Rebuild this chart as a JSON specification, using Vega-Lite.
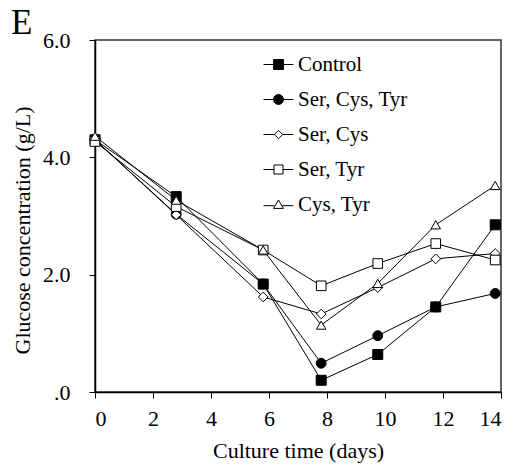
{
  "$schema": "https://vega.github.io/schema/vega-lite/v6.json",
  "width": 406,
  "height": 352,
  "autosize": "none",
  "padding": {"left": 95, "top": 40, "right": 12, "bottom": 74},
  "background": "white",
  "title": {
    "text": "E",
    "anchor": "start",
    "frame": "group",
    "orient": "top",
    "baseline": "alphabetic",
    "dx": -84,
    "dy": 40,
    "offset": 0,
    "font": "serif",
    "fontSize": 35,
    "fontWeight": "normal",
    "color": "black"
  },
  "config": {
    "font": "serif",
    "view": {"stroke": "#333333", "strokeWidth": 1.5},
    "axis": {
      "grid": false,
      "domainColor": "black",
      "domainWidth": 1.5,
      "tickColor": "black",
      "tickWidth": 1,
      "labelFont": "serif",
      "labelFontSize": 22,
      "labelFontWeight": "normal",
      "labelColor": "black",
      "titleFont": "serif",
      "titleFontSize": 22,
      "titleFontWeight": "normal",
      "titleColor": "black"
    }
  },
  "data": {
    "values": [
      {"series": "Control", "day": 0, "glucose": 4.30},
      {"series": "Control", "day": 2.8, "glucose": 3.33},
      {"series": "Control", "day": 5.8, "glucose": 1.84},
      {"series": "Control", "day": 7.8, "glucose": 0.20},
      {"series": "Control", "day": 9.75, "glucose": 0.64},
      {"series": "Control", "day": 11.75, "glucose": 1.45},
      {"series": "Control", "day": 13.8, "glucose": 2.85},
      {"series": "Ser, Cys, Tyr", "day": 0, "glucose": 4.30},
      {"series": "Ser, Cys, Tyr", "day": 2.8, "glucose": 3.03},
      {"series": "Ser, Cys, Tyr", "day": 5.8, "glucose": 1.84},
      {"series": "Ser, Cys, Tyr", "day": 7.8, "glucose": 0.49},
      {"series": "Ser, Cys, Tyr", "day": 9.75, "glucose": 0.96},
      {"series": "Ser, Cys, Tyr", "day": 11.75, "glucose": 1.45},
      {"series": "Ser, Cys, Tyr", "day": 13.8, "glucose": 1.68},
      {"series": "Ser, Cys", "day": 0, "glucose": 4.30},
      {"series": "Ser, Cys", "day": 2.8, "glucose": 3.02},
      {"series": "Ser, Cys", "day": 5.8, "glucose": 1.62},
      {"series": "Ser, Cys", "day": 7.8, "glucose": 1.33},
      {"series": "Ser, Cys", "day": 9.75, "glucose": 1.78},
      {"series": "Ser, Cys", "day": 11.75, "glucose": 2.27},
      {"series": "Ser, Cys", "day": 13.8, "glucose": 2.36},
      {"series": "Ser, Tyr", "day": 0, "glucose": 4.27},
      {"series": "Ser, Tyr", "day": 2.8, "glucose": 3.16},
      {"series": "Ser, Tyr", "day": 5.8, "glucose": 2.42},
      {"series": "Ser, Tyr", "day": 7.8, "glucose": 1.81},
      {"series": "Ser, Tyr", "day": 9.75, "glucose": 2.19},
      {"series": "Ser, Tyr", "day": 11.75, "glucose": 2.53},
      {"series": "Ser, Tyr", "day": 13.8, "glucose": 2.25},
      {"series": "Cys, Tyr", "day": 0, "glucose": 4.36},
      {"series": "Cys, Tyr", "day": 2.8, "glucose": 3.27},
      {"series": "Cys, Tyr", "day": 5.8, "glucose": 2.42},
      {"series": "Cys, Tyr", "day": 7.8, "glucose": 1.14},
      {"series": "Cys, Tyr", "day": 9.75, "glucose": 1.85},
      {"series": "Cys, Tyr", "day": 11.75, "glucose": 2.85},
      {"series": "Cys, Tyr", "day": 13.8, "glucose": 3.52}
    ]
  },
  "encoding": {
    "x": {
      "field": "day",
      "type": "quantitative",
      "scale": {"domain": [0, 14], "nice": false, "zero": false},
      "axis": {
        "title": "Culture time (days)",
        "values": [0, 2, 4, 6, 8, 10, 12, 14],
        "format": "d",
        "tickSize": 6,
        "labelPadding": 10,
        "titleBaseline": "alphabetic",
        "titleY": 65,
        "encode": {"ticks": {"update": {"y2": {"value": -6}}}}
      }
    },
    "y": {
      "field": "glucose",
      "type": "quantitative",
      "scale": {"domain": [0, 6], "nice": false},
      "axis": {
        "title": "Glucose concentration (g/L)",
        "values": [0, 2, 4, 6],
        "labelExpr": "datum.value == 0 ? '.0' : format(datum.value, '.1f')",
        "tickSize": 6,
        "labelPadding": 19,
        "titleAngle": -90,
        "titleBaseline": "alphabetic",
        "titleAlign": "center",
        "titleX": -66,
        "titleY": 190,
        "encode": {"ticks": {"update": {"x2": {"value": 6}}}}
      }
    }
  },
  "layer": [
    {
      "mark": {"type": "line", "stroke": "black", "strokeWidth": 1},
      "encoding": {"detail": {"field": "series"}}
    },
    {
      "mark": {"type": "point", "filled": true, "stroke": "black", "strokeWidth": 1, "opacity": 1},
      "encoding": {
        "shape": {
          "field": "series",
          "scale": {
            "domain": ["Control", "Ser, Cys, Tyr", "Ser, Cys", "Ser, Tyr", "Cys, Tyr"],
            "range": ["square", "circle", "diamond", "square", "triangle-up"]
          },
          "legend": null
        },
        "fill": {
          "field": "series",
          "scale": {
            "domain": ["Control", "Ser, Cys, Tyr", "Ser, Cys", "Ser, Tyr", "Cys, Tyr"],
            "range": ["black", "black", "white", "white", "white"]
          },
          "legend": null
        },
        "size": {
          "field": "series",
          "scale": {
            "domain": ["Control", "Ser, Cys, Tyr", "Ser, Cys", "Ser, Tyr", "Cys, Tyr"],
            "range": [100, 90, 70, 100, 100]
          },
          "legend": null
        }
      }
    },
    {
      "transform": [{"filter": "false"}],
      "mark": {"type": "point", "filled": true, "strokeWidth": 1, "opacity": 1},
      "encoding": {
        "shape": {
          "field": "series",
          "scale": {
            "domain": ["Control", "Ser, Cys, Tyr", "Ser, Cys", "Ser, Tyr", "Cys, Tyr"],
            "range": [
              "M-1,0H-0.33M0.33,0H1M-0.33,-0.33H0.33V0.33H-0.33Z",
              "M-1,0H-0.33M0.33,0H1M-0.33,0A0.33,0.33 0 1,0 0.33,0A0.33,0.33 0 1,0 -0.33,0Z",
              "M-1,0H-0.28M0.28,0H1M0,-0.28L0.28,0L0,0.28L-0.28,0Z",
              "M-1,0H-0.3M0.3,0H1M-0.3,-0.3H0.3V0.3H-0.3Z",
              "M-1,0.08H-0.26M0.26,0.08H1M0,-0.3L0.33,0.26H-0.33Z"
            ]
          },
          "legend": {
            "title": null,
            "orient": "none",
            "legendX": 168,
            "legendY": 9,
            "symbolSize": 900,
            "symbolStrokeWidth": 1,
            "symbolOpacity": 1,
            "labelFont": "serif",
            "labelFontSize": 21,
            "labelFontWeight": "normal",
            "labelColor": "black",
            "labelOffset": 4,
            "rowPadding": 9,
            "labelLimit": 300
          }
        },
        "fill": {
          "field": "series",
          "scale": {
            "domain": ["Control", "Ser, Cys, Tyr", "Ser, Cys", "Ser, Tyr", "Cys, Tyr"],
            "range": ["black", "black", "white", "white", "white"]
          }
        },
        "stroke": {
          "field": "series",
          "scale": {
            "domain": ["Control", "Ser, Cys, Tyr", "Ser, Cys", "Ser, Tyr", "Cys, Tyr"],
            "range": ["black", "black", "black", "black", "black"]
          }
        }
      }
    }
  ],
  "resolve": {
    "scale": {"shape": "independent", "fill": "independent", "size": "independent", "stroke": "independent"},
    "legend": {"shape": "independent", "fill": "independent", "stroke": "independent"}
  }
}
